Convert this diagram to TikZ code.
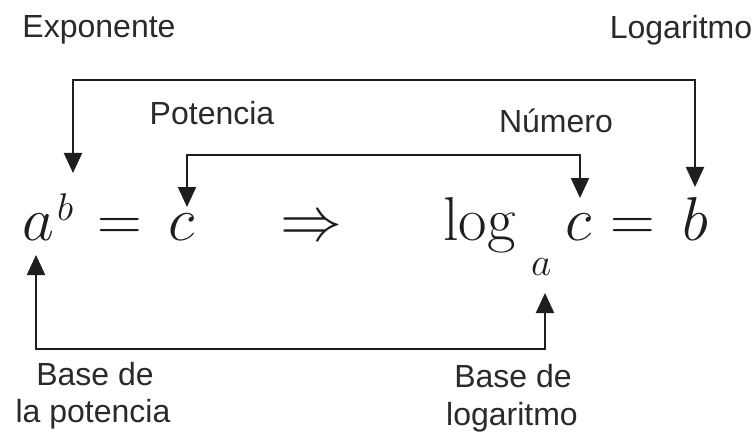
\documentclass[tikz,border=0pt]{standalone}
\usepackage{graphicx}
\usepackage[no-math]{fontspec}
\setmainfont{Liberation Sans}
\usetikzlibrary{arrows.meta}
\definecolor{ink}{HTML}{1E1E1E}
\definecolor{lbl}{HTML}{2A2A2A}
\newcommand{\bigmath}[1]{\scalebox{2.49}{\Huge$#1$}}
\newcommand{\smallmath}[1]{\scalebox{1.58}{\Huge$#1$}}
\newcommand{\supmath}[1]{\scalebox{1.55}{\Huge$#1$}}
\tikzset{
  lab/.style={anchor=base, inner sep=0pt, text=lbl, font=\fontsize{32}{37}\selectfont},
  bigm/.style={anchor=base west, inner sep=0pt, text=ink},
  conn/.style={draw=ink, line width=2pt, {Triangle[width=18pt,length=20pt]}-{Triangle[width=18pt,length=20pt]}}
}
\begin{document}
\begin{tikzpicture}[x=1pt,y=-1pt]
\useasboundingbox[fill=white] (0,0) rectangle (755,441);
% math
\node[bigm] (aA) at (22,240) {\bigmath{a}};
\node[bigm] (bA) at (57,220) {\supmath{b}};
\node[bigm] (eqA) at (97,240) {\bigmath{=}};
\node[bigm] (cA) at (168,240) {\bigmath{c}};
\node[bigm] (impl) at (280,240) {\bigmath{\Rightarrow}};
\node[bigm] (log) at (443,240) {\bigmath{\log}};
\node[bigm] (base) at (531,275) {\smallmath{a}};
\node[bigm] (cB) at (565,240) {\bigmath{c}};
\node[bigm] (eqB) at (610,240) {\bigmath{=}};
\node[bigm] (bB) at (682,240) {\bigmath{b}};
% labels
\node[lab] (lexp) at (99,38) {Exponente};
\node[lab] (llog) at (681,39) {Logaritmo};
\node[lab] (lpot) at (212,125) {Potencia};
\node[lab] (lnum) at (556,133) {Número};
\node[lab] (lbp1) at (95,385) {Base de};
\node[lab] (lbp2) at (93,422) {la potencia};
\node[lab] (lbl1) at (513,387) {Base de};
\node[lab] (lbl2) at (512,425) {logaritmo};
% arrow tips
\coordinate (t1) at (73,173);
\coordinate (t2) at (695,187);
\coordinate (s1) at (187,207);
\coordinate (s2) at (580,198);
\coordinate (u1) at (36,255);
\coordinate (u2) at (545,293);
\draw[conn] (t1) -- ++(0,-93) -| (t2);
\draw[conn] (s1) -- ++(0,-52) -| (s2);
\draw[conn] (u1) -- ++(0,94) -| (u2);
\end{tikzpicture}
\end{document}
